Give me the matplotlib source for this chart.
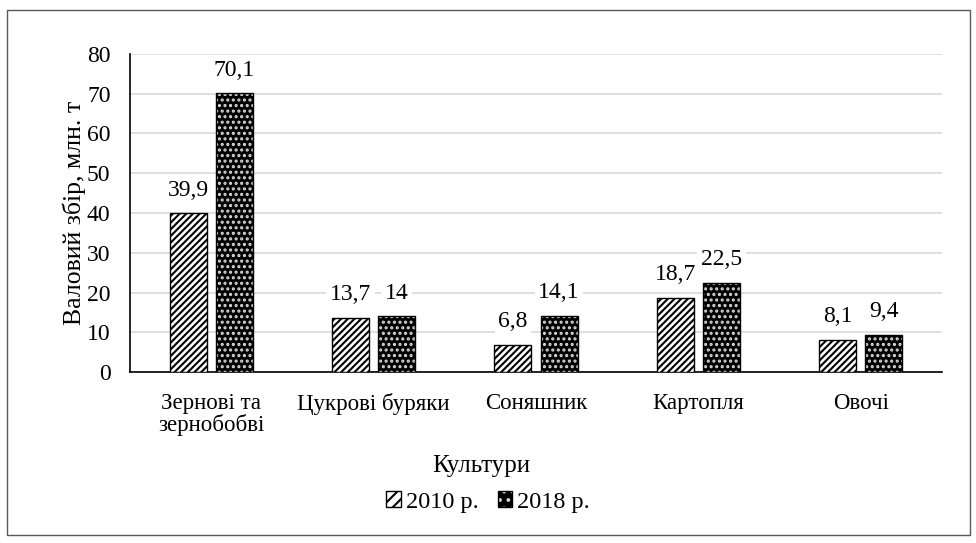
import numpy as np
import matplotlib.pyplot as plt
from matplotlib.patches import Rectangle, Patch
from matplotlib.legend_handler import HandlerTuple

plt.rcParams['font.family'] = ['Liberation Serif', 'DejaVu Serif']
plt.rcParams['hatch.linewidth'] = 1.5

categories = ['Зернові та\nзернобобві', 'Цукрові буряки', 'Соняшник', 'Картопля', 'Овочі']
values_2010 = [39.9, 13.7, 6.8, 18.7, 8.1]
values_2018 = [70.1, 14, 14.1, 22.5, 9.4]
series_names = ['2010 р.', '2018 р.']

fig = plt.figure(figsize=(9.76, 5.43), dpi=100)
ax = fig.add_axes([0.1332, 0.3149, 0.832, 0.5857])

x = np.arange(len(categories))
w = 0.228
off = 0.142

# 2010: white with diagonal stripes
ax.bar(x - off, values_2010, w, color='white', edgecolor='black', hatch='/////', linewidth=1.0, zorder=3)
# 2018: black with white dots
ax.bar(x + off, values_2018, w, color='black', edgecolor='#d8d8d8', hatch='...', linewidth=0, zorder=3)
ax.bar(x + off, values_2018, w, color='none', edgecolor='black', linewidth=1.0, zorder=4)

def fmt(v):
    return ('%g' % v).replace('.', ',')

for xs, vals in ((x - off, values_2010), (x + off, values_2018)):
    for xi, v in zip(xs, vals):
        ax.annotate(fmt(v), (xi, v), xytext=(0, 9), textcoords='offset points',
                    ha='center', va='bottom', fontsize=17, zorder=5,
                    bbox=dict(boxstyle='square,pad=0.15', fc='white', ec='none'))

ax.set_ylim(0, 80)
ax.set_xlim(-0.5, len(categories) - 0.5)
ax.set_yticks(range(0, 81, 10))
ax.set_xticks(x)
ax.set_xticklabels(categories, fontsize=16.5, linespacing=1.0)
ax.tick_params(axis='both', length=0)
ax.tick_params(axis='y', labelsize=17, pad=14)
ax.tick_params(axis='x', pad=15)
ax.yaxis.grid(True, color='#d9d9d9', linewidth=1.2, zorder=0)
ax.set_axisbelow(True)
for s in ['top', 'right']:
    ax.spines[s].set_visible(False)
ax.spines['left'].set_linewidth(1.2)
ax.spines['bottom'].set_linewidth(1.2)

ax.set_ylabel('Валовий збір, млн. т', fontsize=18.5, labelpad=1)
fig.text(0.493, 1 - 466 / 543, 'Культури', ha='center', va='center', fontsize=18)

h2010 = (Patch(facecolor='white', edgecolor='black', hatch='///', linewidth=0),
         Patch(facecolor='none', edgecolor='black', linewidth=1.0))
h2018 = (Patch(facecolor='black', edgecolor='#d8d8d8', hatch='..', linewidth=0),
         Patch(facecolor='none', edgecolor='black', linewidth=1.0))
fig.legend([h2010, h2018], series_names, loc='center', bbox_to_anchor=(0.5, 1 - 502 / 543),
           ncol=2, frameon=False, fontsize=17.5, handlelength=0.6, handleheight=0.6,
           handletextpad=0.2, columnspacing=0.8,
           handler_map={tuple: HandlerTuple(ndivide=1, pad=0)})

fig.patches.append(Rectangle((7 / 976, 1 - 535 / 543), 963 / 976, 525 / 543,
                             transform=fig.transFigure, fill=False,
                             edgecolor='#595959', linewidth=1.0))

fig.savefig('out.png', dpi=100)
